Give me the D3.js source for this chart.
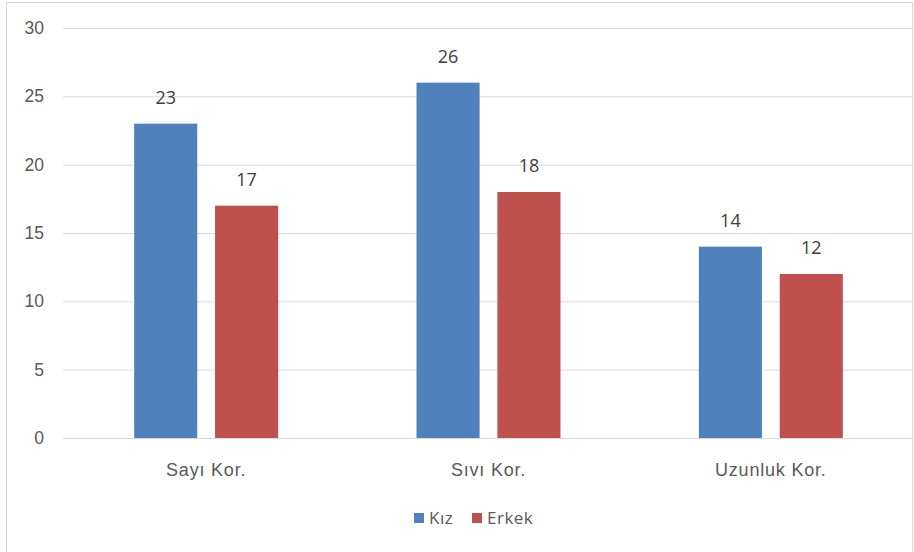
<!DOCTYPE html>
<html lang="tr">
<head>
<meta charset="UTF-8">
<script src="https://d3js.org/d3.v7.min.js"></script>
<style>
  body { margin: 0; background: #fff; }
  svg { font-family: "Open Sans", "DejaVu Sans", sans-serif; }
</style>
</head>
<body>
<div id="chart"></div>
<script>
// Veriler
const categories = ["Sayı Kor.", "Sıvı Kor.", "Uzunluk Kor."];
const seriesNames = ["Kız", "Erkek"];
const kiz = [23, 26, 14];
const erkek = [17, 18, 12];
const yTicks = [0, 5, 10, 15, 20, 25, 30];
const colors = ["#4F81BD", "#C0504D"];

const width = 914, height = 552;
const margin = { top: 28, right: 2, bottom: 114, left: 65 };

const svg = d3.select("#chart").append("svg")
  .attr("width", width)
  .attr("height", height);

// çerçeve
svg.append("rect")
  .attr("x", 6.5).attr("y", 2.5)
  .attr("width", 906).attr("height", 560)
  .attr("fill", "none")
  .attr("stroke", "#D9D9D9");

const x0 = d3.scaleBand()
  .domain(categories)
  .range([margin.left, width - margin.right])
  .paddingInner(0.49)
  .paddingOuter(0.245);

const x1 = d3.scaleBand()
  .domain(seriesNames)
  .range([0, x0.bandwidth()])
  .paddingInner(0.22);

const y = d3.scaleLinear()
  .domain([0, 30])
  .range([height - margin.bottom, margin.top]);

// yatay ızgara
const yAxis = svg.append("g")
  .attr("transform", `translate(${margin.left - 2},0)`)
  .call(d3.axisLeft(y).tickValues(yTicks).tickSize(-(width - margin.left - margin.right + 2)).tickPadding(19));
yAxis.select(".domain").remove();
yAxis.selectAll(".tick line").attr("stroke", "#D9D9D9");
yAxis.selectAll(".tick text")
  .attr("fill", "#595959")
  .attr("font-size", "17.5px");

// x ekseni
const xAxis = svg.append("g")
  .attr("transform", `translate(0,${y(0)})`)
  .call(d3.axisBottom(x0).tickSize(0).tickPadding(25));
xAxis.select(".domain").attr("stroke", "#D9D9D9").attr("d", `M${margin.left - 2},0.5H${width - margin.right}`);
xAxis.selectAll(".tick text")
  .attr("fill", "#595959")
  .attr("font-size", "18px")
  .attr("letter-spacing", "0.8px");

const data = categories.map((c, i) => ({ cat: c, vals: [kiz[i], erkek[i]] }));

const groups = svg.append("g").selectAll("g")
  .data(data)
  .join("g")
  .attr("transform", d => `translate(${x0(d.cat)},0)`);

groups.selectAll("rect")
  .data(d => d.vals.map((v, j) => ({ name: seriesNames[j], v, j })))
  .join("rect")
  .attr("x", d => x1(d.name))
  .attr("y", d => y(d.v))
  .attr("width", x1.bandwidth())
  .attr("height", d => y(0) - y(d.v))
  .attr("fill", d => colors[d.j]);

groups.selectAll("text.val")
  .data(d => d.vals.map((v, j) => ({ name: seriesNames[j], v, j })))
  .join("text")
  .attr("class", "val")
  .attr("x", d => x1(d.name) + x1.bandwidth() / 2)
  .attr("y", d => y(d.v) - 20)
  .attr("text-anchor", "middle")
  .attr("fill", "#404040")
  .attr("font-size", "18px")
  .text(d => d.v);

// lejant
const legend = svg.append("g").attr("transform", "translate(414,518)");
const legendX = [0, 58];
seriesNames.forEach((n, i) => {
  const g = legend.append("g").attr("transform", `translate(${legendX[i]},0)`);
  g.append("rect")
    .attr("x", 0).attr("y", -5)
    .attr("width", 10).attr("height", 10)
    .attr("fill", colors[i]);
  g.append("text")
    .attr("x", 15).attr("y", 6)
    .attr("fill", "#595959")
    .attr("font-size", "17px")
    .attr("letter-spacing", "0.5px")
    .text(n);
});
</script>
</body>
</html>
